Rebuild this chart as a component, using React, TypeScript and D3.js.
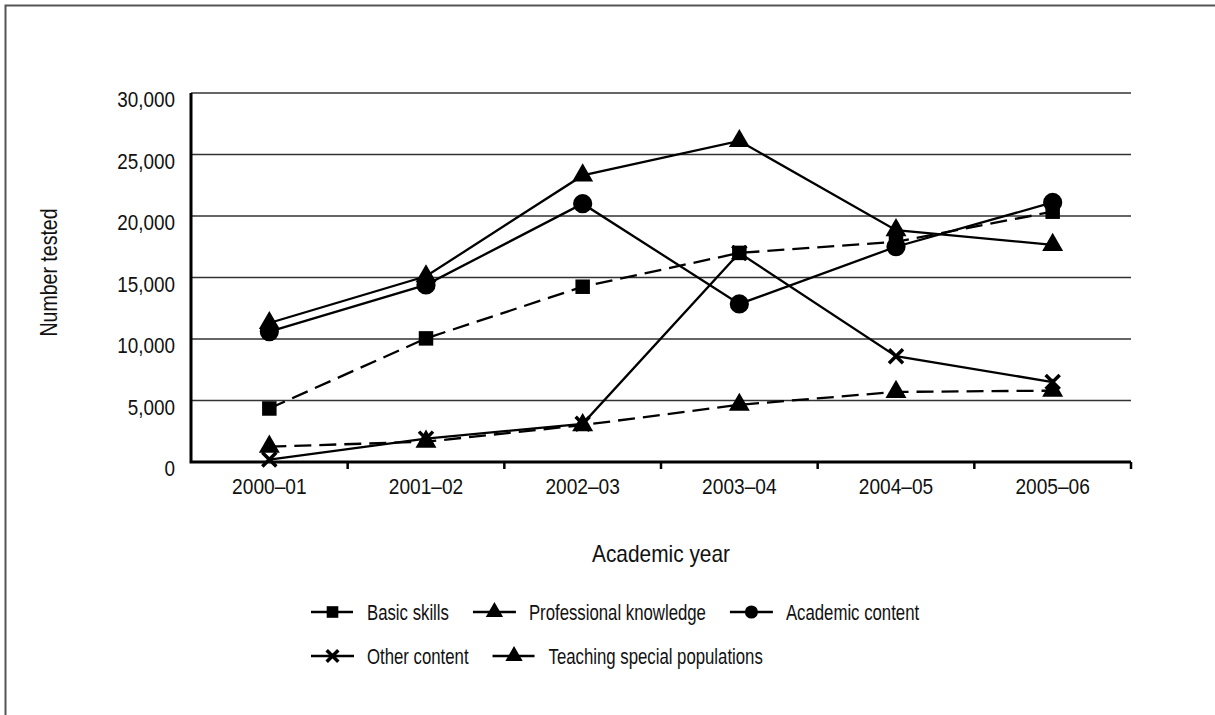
import { useEffect, useRef } from "react";
import * as d3 from "d3";

const years = ["2000–01", "2001–02", "2002–03", "2003–04", "2004–05", "2005–06"];
const yTicks = [0, 5000, 10000, 15000, 20000, 25000, 30000];

const basicSkills = [4350, 10050, 14250, 17000, 17900, 20350];
const professionalKnowledge = [11300, 15100, 23300, 26100, 18850, 17650];
const academicContent = [10600, 14400, 21000, 12850, 17500, 21100];
const otherContent = [200, 1900, 3100, 17000, 8600, 6500];
const teachingSpecial = [1250, 1650, 3000, 4650, 5700, 5800];

const seriesNames = [
  "Basic skills",
  "Professional knowledge",
  "Academic content",
  "Other content",
  "Teaching special populations",
];

const FONT = '"Liberation Sans Narrow", "Arial Narrow", "Liberation Sans", sans-serif';
// the original face is a narrow sans; squeeze the installed one horizontally
const NARROW = 0.84;

export default function App() {
  const svgRef = useRef<SVGSVGElement>(null);

  useEffect(() => {
    document.body.style.margin = "0";
    if (!svgRef.current) return;
    const width = 1215;
    const height = 715;
    const m = { left: 191, right: 1131, top: 93, bottom: 462 };

    const svg = d3.select(svgRef.current);
    svg.selectAll("*").remove();
    svg.attr("width", width).attr("height", height).style("font-family", FONT);

    // outer frame (only top and left edges are visible)
    svg
      .append("rect")
      .attr("x", 5.5)
      .attr("y", 5.5)
      .attr("width", width + 20)
      .attr("height", height + 20)
      .attr("fill", "white")
      .attr("stroke", "#555")
      .attr("stroke-width", 2);

    const x = d3.scaleBand<string>().domain(years).range([m.left, m.right]);
    const y = d3.scaleLinear().domain([0, 30000]).range([m.bottom, m.top]);
    const cx = (d: string) => (x(d) ?? 0) + x.bandwidth() / 2;

    // gridlines
    svg
      .append("g")
      .selectAll("line")
      .data(yTicks.filter((t) => t > 0))
      .join("line")
      .attr("x1", m.left)
      .attr("x2", m.right)
      .attr("y1", (d) => y(d))
      .attr("y2", (d) => y(d))
      .attr("stroke", "#333")
      .attr("stroke-width", 1.6);

    // y labels
    svg
      .append("g")
      .selectAll("text")
      .data(yTicks)
      .join("text")
      .attr("transform", (d) => `translate(175,${y(d) + 14}) scale(${NARROW},1)`)
      .attr("text-anchor", "end")
      .attr("font-size", 22.5)
      .attr("fill", "#111")
      .text((d) => d3.format(",")(d));

    // x ticks
    const bounds = years.map((d) => (x(d) ?? 0) + x.bandwidth()).slice(0, -1);
    bounds.push(m.right);
    svg
      .append("g")
      .selectAll("line")
      .data(bounds)
      .join("line")
      .attr("x1", (d) => d)
      .attr("x2", (d) => d)
      .attr("y1", m.bottom)
      .attr("y2", m.bottom + 7)
      .attr("stroke", "#000")
      .attr("stroke-width", 2.5);

    svg
      .append("g")
      .selectAll("text")
      .data(years)
      .join("text")
      .attr("transform", (d) => `translate(${cx(d)},494) scale(0.85,1)`)
      .attr("text-anchor", "middle")
      .attr("font-size", 22.5)
      .attr("fill", "#111")
      .text((d) => d);

    // axes
    svg
      .append("path")
      .attr("d", `M${m.left},${m.top}V${m.bottom}H${m.right}`)
      .attr("fill", "none")
      .attr("stroke", "#000")
      .attr("stroke-width", 3);

    // titles
    svg
      .append("text")
      .attr("transform", `translate(${(m.left + m.right) / 2},562) scale(0.87,1)`)
      .attr("text-anchor", "middle")
      .attr("font-size", 24)
      .attr("fill", "#111")
      .text("Academic year");
    svg
      .append("text")
      .attr("transform", `translate(57,${(m.top + m.bottom) / 2 - 5}) rotate(-90) scale(0.85,1)`)
      .attr("text-anchor", "middle")
      .attr("font-size", 23)
      .attr("fill", "#111")
      .text("Number tested");

    const allValues = [basicSkills, professionalKnowledge, academicContent, otherContent, teachingSpecial];
    const symbols = [d3.symbolSquare, d3.symbolTriangle, d3.symbolCircle, d3.symbolTimes, d3.symbolTriangle];
    const dashed = [true, false, false, false, true];
    const sizes = [210, 190, 290, 130, 190];
    const legendSizes = [135, 130, 135, 90, 130];
    const dash = "17,8";

    const line = d3
      .line<number>()
      .x((_d, i) => cx(years[i]))
      .y((d) => y(d));

    const drawMarker = (
      g: d3.Selection<SVGGElement, unknown, null, undefined>,
      k: number,
      px: number,
      py: number,
      size: number
    ) => {
      const isX = symbols[k] === d3.symbolTimes;
      g.append("path")
        .attr("transform", `translate(${px},${py})`)
        .attr("d", d3.symbol(symbols[k], size)() ?? "")
        .attr("fill", isX ? "none" : "#000")
        .attr("stroke", isX ? "#000" : "none")
        .attr("stroke-width", isX ? 3.5 : 0);
    };

    allValues.forEach((vals, k) => {
      const g = svg.append("g");
      g.append("path")
        .attr("d", line(vals) ?? "")
        .attr("fill", "none")
        .attr("stroke", "#000")
        .attr("stroke-width", 2.3)
        .attr("stroke-dasharray", dashed[k] ? dash : null);
      vals.forEach((v, i) => drawMarker(g, k, cx(years[i]), y(v), sizes[k]));
    });

    // legend
    const rows = [
      [0, 1, 2],
      [3, 4],
    ];
    const rowY = [612, 656];
    const symW = 43;
    const legendScale = 0.78;
    rows.forEach((row, r) => {
      let lx = 311;
      row.forEach((k) => {
        const g = svg.append("g");
        g.append("line")
          .attr("x1", lx)
          .attr("x2", lx + symW)
          .attr("y1", rowY[r])
          .attr("y2", rowY[r])
          .attr("stroke", "#000")
          .attr("stroke-width", 2.3)
          .attr("stroke-dasharray", dashed[k] ? dash : null);
        drawMarker(g, k, lx + symW / 2, rowY[r], legendSizes[k]);
        const t = g
          .append("text")
          .attr("transform", `translate(${lx + symW + 13},${rowY[r] + 7.5}) scale(${legendScale},1)`)
          .attr("font-size", 21.5)
          .attr("fill", "#111")
          .text(seriesNames[k]);
        const w = (t.node() as SVGTextElement).getComputedTextLength() * legendScale;
        lx += symW + 13 + w + 24;
      });
    });
  }, []);

  return <svg ref={svgRef} style={{ display: "block" }} />;
}
